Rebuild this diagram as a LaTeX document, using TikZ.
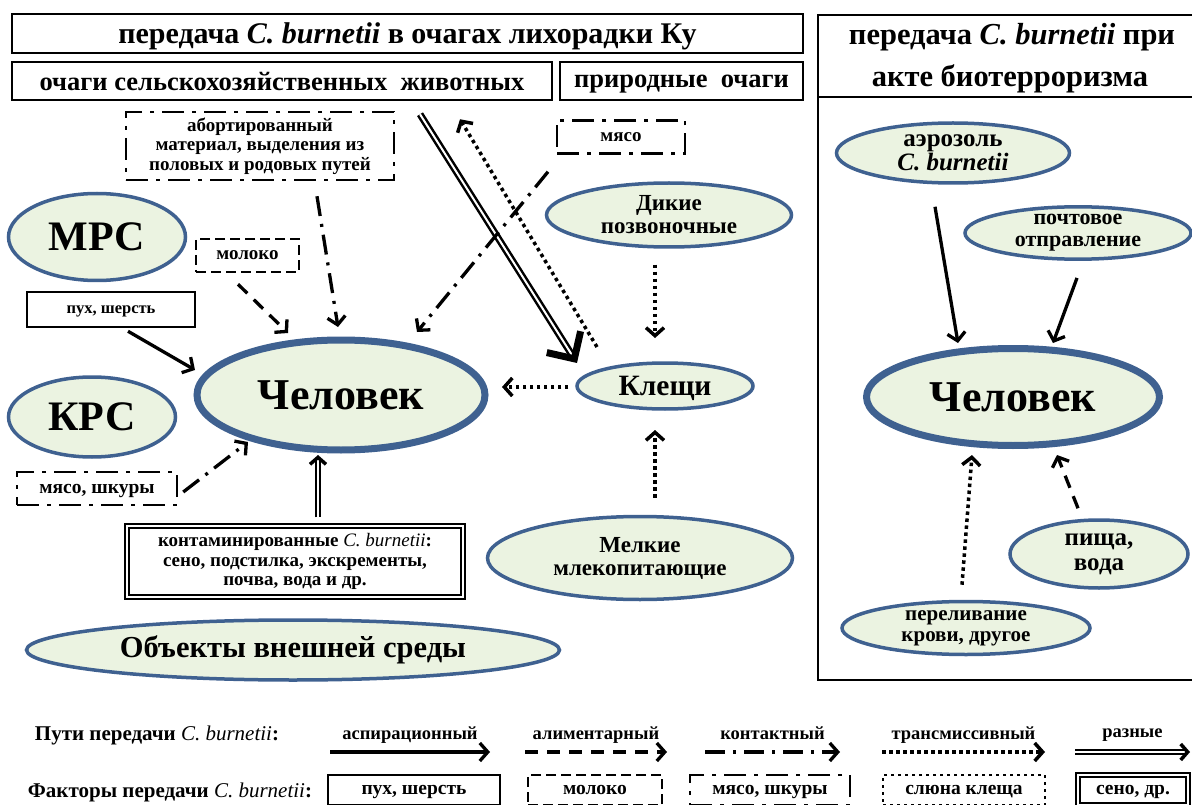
\documentclass[tikz,border=0pt]{standalone}
\usepackage{fontspec}
\setmainfont{Liberation Serif}
\usetikzlibrary{arrows.meta,shapes.geometric,calc,positioning}
\definecolor{ovalfill}{HTML}{EBF3E1}
\definecolor{ovalline}{HTML}{3F6190}
\newcommand{\fsz}[2]{\fontsize{#1}{#2}\selectfont\bfseries}
\newcommand{\cb}{\textit{C. burnetii}}
\tikzset{
  oval/.style={ellipse, draw=ovalline, fill=ovalfill, line width=3.5pt, inner sep=0pt, align=center},
  bigoval/.style={oval, line width=7pt},
  framebox/.style={draw, line width=2.5pt, inner sep=0pt, align=center},
  dashbox/.style={framebox, dash pattern=on 10pt off 5pt},
  dotdashbox/.style={framebox, dash pattern=on 22pt off 8pt on 4pt off 8pt},
  dotbox/.style={framebox, dash pattern=on 3pt off 4pt},
  doublebox/.style={draw, double, double distance=2.5pt, line width=1.3pt, inner sep=0pt, align=center},
  sunk/.style={text depth=0pt},
  aspir/.style={->, line width=3.3pt},
  alim/.style={->, line width=3.3pt, dash pattern=on 13pt off 9pt},
  contact/.style={->, line width=3.3pt, dash pattern=on 20pt off 8pt on 3pt off 8pt},
  transm/.style={->, line width=3.5pt, dash pattern=on 3.5pt off 3.5pt},
  misc/.style={-{Straight Barb[length=7pt,width=16pt,line width=3.5pt]}, double, double distance=2.5pt, line width=1.3pt},
}
\begin{document}
\begin{tikzpicture}[x=1pt,y=-1pt,>={Straight Barb[length=8pt,width=18pt]}]
\useasboundingbox (0,0) rectangle (1192,805);

% headers
\node[framebox, sunk, minimum width=791pt, minimum height=39pt, font=\fsz{30}{32}] (title) at (407.5,33.5) {передача \cb{} в очагах лихорадки Ку};
\node[framebox, sunk, minimum width=540pt, minimum height=38pt, font=\fsz{26.5}{28}] (farm) at (282,81) {очаги сельскохозяйственных\ \ животных};
\node[framebox, sunk, minimum width=243pt, minimum height=38pt, font=\fsz{26.5}{28}] (wildfoci) at (681.5,81) {природные\ \ очаги};

% farm and natural foci
\node[dotdashbox, minimum width=268pt, minimum height=68pt, font=\fsz{19}{19.5}] (abort) at (260,146) {абортированный\\материал, выделения из\\половых и родовых путей};
\node[oval, minimum width=177pt, minimum height=87pt, font=\fsz{42}{44}] (mrs) at (97,237) {МРС};
\node[dashbox, sunk, minimum width=103pt, minimum height=33pt, font=\fsz{19}{20}] (milk) at (247.5,255.5) {молоко};
\node[framebox, sunk, minimum width=168pt, minimum height=35pt, font=\fsz{16.5}{18}] (fluff) at (111,309.5) {пух, шерсть};
\node[oval, minimum width=167pt, minimum height=80pt, font=\fsz{42}{44}] (krs) at (92,417) {КРС};
\node[dotdashbox, sunk, minimum width=160pt, minimum height=33pt, font=\fsz{19.5}{20}] (hide) at (97,488.5) {мясо, шкуры};
\node[bigoval, minimum width=288pt, minimum height=110pt, font=\fsz{44}{48}] (man) at (341,395) {Человек};
\node[doublebox, minimum width=336pt, minimum height=71pt, font=\fsz{19}{19.5}] (contam) at (295,561.5) {контаминированные {\mdseries\cb}:\\сено, подстилка, экскременты,\\почва, вода и др.};
\node[oval, minimum width=533pt, minimum height=60pt, font=\fsz{30.5}{32}] (env) at (293,650) {Объекты внешней среды};
\node[dotdashbox, sunk, minimum width=128pt, minimum height=33pt, font=\fsz{19}{20}] (meat) at (621,137) {мясо};
\node[oval, minimum width=245pt, minimum height=64pt, font=\fsz{23}{23}] (wild) at (669,215) {Дикие\\позвоночные};
\node[oval, sunk, minimum width=176pt, minimum height=46pt, font=\fsz{29.5}{30}] (ticks) at (665,386) {Клещи};
\node[oval, minimum width=305pt, minimum height=83pt, font=\fsz{23}{23}] (small) at (640,558) {Мелкие\\млекопитающие};

\draw[contact] ($(abort.south)+(57,15)$) -- ($(man)+(-3,-68)$);
\draw[alim] ($(milk.south)+(-9.5,11)$) -- ($(man)+(-53,-62)$);
\draw[aspir] ($(fluff.south)+(17,3)$) -- ($(man)+(-146,-25)$);
\draw[contact] ($(hide.east)+(5,3.5)$) -- ($(man)+(-93,47)$);
\draw[misc] ($(contam.north)+(23,-8)$) -- ($(man)+(-23,60)$);
\draw[-{Straight Barb[length=20pt,width=40pt,line width=7pt]}, double, double distance=2pt, line width=2.5pt] ($(farm.south)+(138,13)$) -- ($(ticks)+(-88,-23)$);
\draw[transm] ($(ticks)+(-68,-39)$) -- ($(farm.south)+(178,18)$);
\draw[contact] ($(meat.south)+(-73,17)$) -- ($(man)+(76,-63)$);
\draw[transm] ($(wild.south)+(-14,16)$) -- ($(ticks)+(-10,-48)$);
\draw[transm] ($(ticks.west)+(-7,1)$) -- ($(man)+(161,-8)$);
\draw[transm] ($(small.north)+(15,-17)$) -- ($(ticks)+(-10,44)$);

% bioterrorism panel
\draw[line width=2.5pt] (818,15) rectangle (1198,680);
\draw[line width=2.5pt] (818,97) -- (1198,97);
\node[sunk, font=\fsz{30.5}{32}] (bioA) at (1012,34) {передача \cb{} при};
\node[sunk, font=\fsz{30.5}{32}] (bioB) at (1010,76) {акте биотерроризма};
\node[oval, minimum width=233pt, minimum height=60pt, font=\fsz{25}{24}] (aero) at (953,153) {аэрозоль\\\cb};
\node[oval, minimum width=226pt, minimum height=50pt, font=\fsz{22}{22}] (mail) at (1078,233) {почтовое\\отправление};
\node[bigoval, minimum width=293pt, minimum height=97pt, font=\fsz{44}{48}] (manR) at (1013,397) {Человек};
\node[oval, minimum width=178pt, minimum height=68pt, font=\fsz{25}{25}] (food) at (1099,554) {пища,\\вода};
\node[oval, minimum width=248pt, minimum height=53pt, font=\fsz{21}{21}] (blood) at (966,628) {переливание\\крови, другое};

\draw[aspir] ($(aero.south)+(-18,22)$) -- ($(manR)+(-55,-54)$);
\draw[aspir] ($(mail.south)+(-1,17)$) -- ($(manR)+(40,-54)$);
\draw[transm] ($(blood.north)+(-4,-15)$) -- ($(manR)+(-41,58)$);
\draw[alim] ($(food.north)+(-21,-10)$) -- ($(manR)+(44,58)$);

% legend
\node[sunk, font=\fsz{21}{22}] (ways) at (157,733) {Пути передачи {\mdseries\cb}:};
\node[sunk, font=\fsz{21}{22}] (factors) at (170,790) {Факторы передачи {\mdseries\cb}:};
\foreach \sty/\lbl/\xa/\xb [count=\i] in {aspir/аспирационный/330/490, alim/алиментарный/525/667, contact/контактный/705/840, transm/трансмиссивный/882/1045, misc/разные/1075/1190}{
  \coordinate (way\i a) at (\xa,752);
  \coordinate (way\i b) at (\xb,752);
  \draw[\sty] (way\i a) -- (way\i b);
  \node[sunk, font=\fsz{18.5}{20}] (wayname\i) at ({(\xa+\xb)/2},733) {\lbl};
}
\foreach \sty/\lbl/\xa/\xb [count=\i] in {framebox/{пух, шерсть}/328/500, dashbox/молоко/528/662, dotdashbox/{мясо, шкуры}/690/850, dotbox/{слюна клеща}/883/1045, doublebox/{сено, др.}/1078/1188}{
  \node[\sty, sunk, minimum width={(\xb-\xa)*1pt}, minimum height=30pt, font=\fsz{19.5}{20}] (factor\i) at ({(\xa+\xb)/2},790) {\lbl};
}
\end{tikzpicture}
\end{document}
